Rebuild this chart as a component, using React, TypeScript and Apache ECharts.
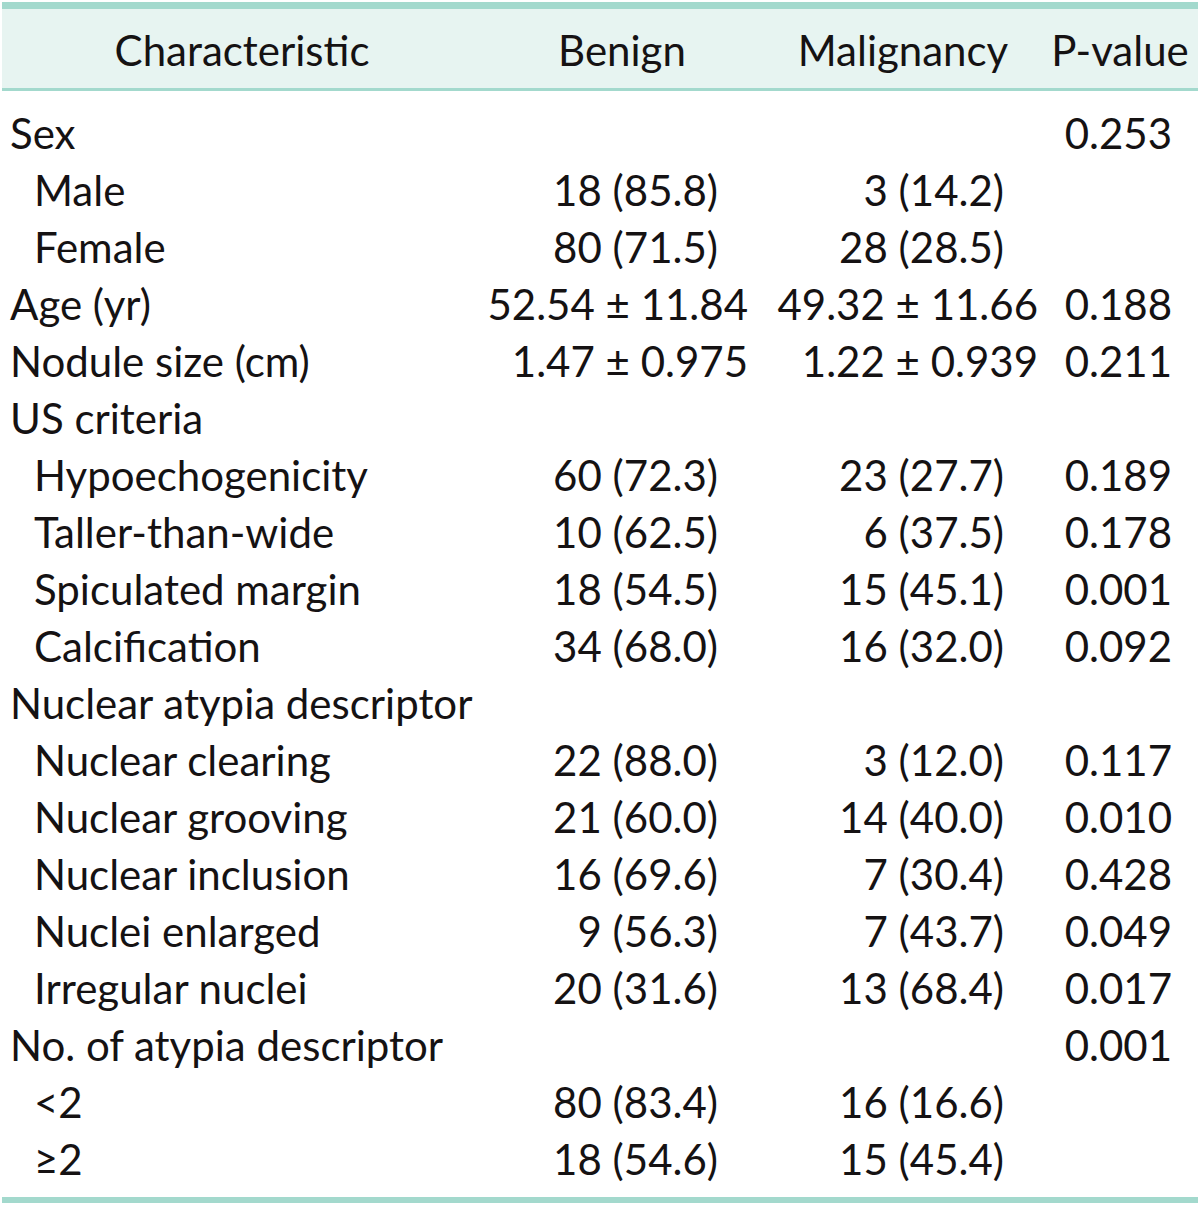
import React, { useEffect, useRef } from "react";
import * as echarts from "echarts";

const headers = ["Characteristic", "Benign", "Malignancy", "P-value"];
const labels = [
  "Sex", "Male", "Female", "Age (yr)", "Nodule size (cm)", "US criteria",
  "Hypoechogenicity", "Taller-than-wide", "Spiculated margin", "Calcification",
  "Nuclear atypia descriptor", "Nuclear clearing", "Nuclear grooving",
  "Nuclear inclusion", "Nuclei enlarged", "Irregular nuclei",
  "No. of atypia descriptor", "<2", "≥2",
];
const indented = [false, true, true, false, false, false, true, true, true, true, false, true, true, true, true, true, false, true, true];
const benign = [
  "", "18 (85.8)", "80 (71.5)", "52.54 ± 11.84", "1.47 ± 0.975", "",
  "60 (72.3)", "10 (62.5)", "18 (54.5)", "34 (68.0)", "",
  "22 (88.0)", "21 (60.0)", "16 (69.6)", "9 (56.3)", "20 (31.6)", "",
  "80 (83.4)", "18 (54.6)",
];
const malignancy = [
  "", "3 (14.2)", "28 (28.5)", "49.32 ± 11.66", "1.22 ± 0.939", "",
  "23 (27.7)", "6 (37.5)", "15 (45.1)", "16 (32.0)", "",
  "3 (12.0)", "14 (40.0)", "7 (30.4)", "7 (43.7)", "13 (68.4)", "",
  "16 (16.6)", "15 (45.4)",
];
const pValues = [
  "0.253", "", "", "0.188", "0.211", "",
  "0.189", "0.178", "0.001", "0.092", "",
  "0.117", "0.010", "0.428", "0.049", "0.017", "0.001",
  "", "",
];

const FONT_FAMILY = "Lato, 'Open Sans', sans-serif";
const FS = 42;
const TEXT_COLOR = "#151213";
const TEAL = "#a3d9cd";
const HEADER_BG = "#e7f4f1";

export default function App() {
  const ref = useRef<HTMLDivElement>(null);
  useEffect(() => {
    document.body.style.margin = "0";
    if (!ref.current) return;
    const chart = echarts.init(ref.current, undefined, { renderer: "svg" });
    const font = `${FS}px ${FONT_FAMILY}`;
    const elements: any[] = [];
    elements.push({ type: "rect", shape: { x: 2, y: 9, width: 1196, height: 80 }, style: { fill: HEADER_BG }, silent: true });
    elements.push({ type: "rect", shape: { x: 2, y: 2, width: 1196, height: 7 }, style: { fill: TEAL }, silent: true });
    elements.push({ type: "rect", shape: { x: 2, y: 88, width: 1196, height: 3 }, style: { fill: TEAL }, silent: true });
    elements.push({ type: "rect", shape: { x: 2, y: 1197, width: 1196, height: 6 }, style: { fill: TEAL }, silent: true });

    const headerX = [242, 622, 903, 1120];
    headers.forEach((h, i) => {
      elements.push({
        type: "text", x: headerX[i], y: 50, silent: true,
        style: { text: h, font, fill: TEXT_COLOR, align: "center", verticalAlign: "middle" },
      });
    });

    const rowY = (i: number) => 133 + 57 * i;
    labels.forEach((lab, i) => {
      const y = rowY(i);
      elements.push({
        type: "text", x: indented[i] ? 34 : 10, y, silent: true,
        style: { text: lab, font, fill: TEXT_COLOR, align: "left", verticalAlign: "middle" },
      });
      if (benign[i]) {
        const pm = benign[i].includes("±");
        elements.push({
          type: "text", x: pm ? 748 : 718, y, silent: true,
          style: { text: benign[i], font, fill: TEXT_COLOR, align: "right", verticalAlign: "middle" },
        });
      }
      if (malignancy[i]) {
        const pm = malignancy[i].includes("±");
        elements.push({
          type: "text", x: pm ? 1038 : 1004, y, silent: true,
          style: { text: malignancy[i], font, fill: TEXT_COLOR, align: "right", verticalAlign: "middle" },
        });
      }
      if (pValues[i]) {
        elements.push({
          type: "text", x: 1172, y, silent: true,
          style: { text: pValues[i], font, fill: TEXT_COLOR, align: "right", verticalAlign: "middle" },
        });
      }
    });

    chart.setOption({
      animation: false,
      backgroundColor: "#ffffff",
      graphic: { elements },
    });
    return () => chart.dispose();
  }, []);
  return <div ref={ref} style={{ width: 1200, height: 1207 }} />;
}
